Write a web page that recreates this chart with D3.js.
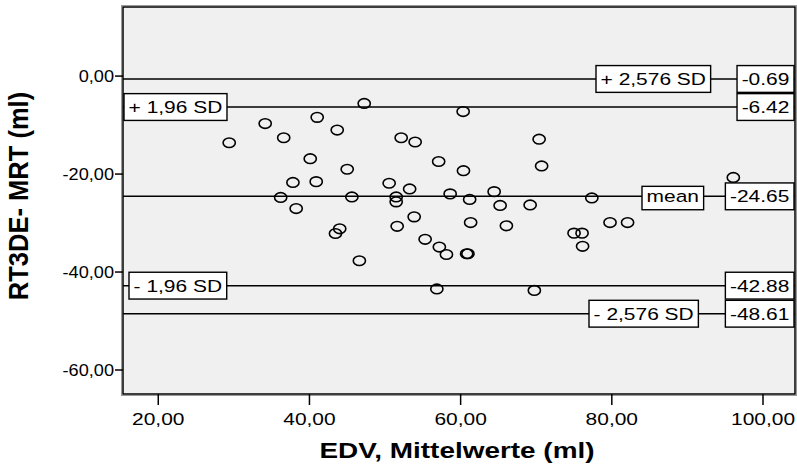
<!DOCTYPE html>
<html><head><meta charset="utf-8">
<script src="https://cdn.jsdelivr.net/npm/d3@7"></script>
<style>
body{margin:0;background:#fff}
svg{display:block}
text{font-family:"Liberation Sans",Arial,Helvetica,sans-serif;fill:#000}
</style>
</head><body>
<svg id="chart" width="797" height="466"></svg>
<script>
// ---- data ----
const edvMean = [29.45,34.21,36.66,41.09,43.74,47.31,40.17,45.06,37.88,40.96,
                 50.61,36.26,45.68,51.54,51.54,53.32,58.68,57.16,54.05,52.20,
                 60.40,60.44,70.45,70.78,64.50,61.26,65.29,69.26,53.92,51.67,
                 61.39,66.12,55.37,57.25,58.19,60.86,61.03,56.92,69.82,77.42,
                 75.07,76.13,76.20,79.83,82.15,96.14,38.31,44.07,43.51,46.67];
const diffRtMrt = [-13.71,-9.80,-12.69,-8.53,-11.12,-5.68,-16.97,-19.12,-21.81,-21.65,
                   -21.98,-24.87,-24.77,-24.77,-25.78,-23.14,-24.15,-17.54,-13.56,-12.69,
                   -7.35,-19.41,-12.99,-18.45,-23.69,-25.28,-26.50,-26.40,-28.84,-30.77,
                   -30.00,-30.67,-33.42,-35.01,-36.52,-36.37,-36.37,-43.56,-43.85,-24.97,
                   -32.16,-32.16,-34.85,-30.00,-30.00,-20.79,-27.15,-31.28,-32.24,-37.80];
const refValues = [-0.69, -6.42, -24.65, -42.88, -48.61];
const refNames = ["+ 2,576 SD", "+ 1,96 SD", "mean", "- 1,96 SD", "- 2,576 SD"];
const refValueLabels = ["-0.69", "-6.42", "-24.65", "-42.88", "-48.61"];
const xTicks = [20, 40, 60, 80, 100];
const yTicks = [0, -20, -40, -60];
const xTitle = "EDV, Mittelwerte (ml)";
const yTitle = "RT3DE- MRT (ml)";

// ---- layout ----
const plot = {left:123, right:795, top:7, bottom:394};
const nameBoxLeft = [596, 124, 642, 129, 589];   // left edge of each name box (px)
const SX = 1.27;       // horizontal stretch of the original picture
const FS = 16.5;

const svg = d3.select("#chart");
const x = d3.scaleLinear().domain([15.4, 104.3]).range([plot.left, plot.right]);
const y = d3.scaleLinear().domain([-65, 14]).range([plot.bottom, plot.top]);
const fmt = d3.formatLocale({decimal:",", thousands:".", grouping:[3], currency:["",""], minus:"-"}).format(".2f");

// background & frame
svg.append("rect").attr("x", plot.left-1.5).attr("y", plot.top-1.5)
  .attr("width", plot.right-plot.left+3).attr("height", plot.bottom-plot.top+3)
  .attr("fill","none").attr("stroke","#999").attr("stroke-width",1);
svg.append("rect").attr("x", plot.left).attr("y", plot.top)
  .attr("width", plot.right-plot.left).attr("height", plot.bottom-plot.top)
  .attr("fill","#f0f0f0").attr("stroke","#000").attr("stroke-width",1.5);

// axes
const yAxis = d3.axisLeft(y).tickValues(yTicks).tickSize(8).tickPadding(0).tickFormat(fmt);
const gy = svg.append("g").attr("transform", `translate(${plot.left},0)`).call(yAxis);
gy.select(".domain").remove();
gy.selectAll(".tick line").attr("stroke","#000").attr("stroke-width",1.5);
gy.selectAll(".tick text").attr("x", null).attr("dy", null)
  .attr("text-anchor","end").attr("font-size", FS)
  .attr("transform", `translate(-9,6) scale(1.1,1)`);

const xAxis = d3.axisBottom(x).tickValues(xTicks).tickSize(11).tickPadding(0).tickFormat(fmt);
const gx = svg.append("g").attr("transform", `translate(0,${plot.bottom})`).call(xAxis);
gx.select(".domain").remove();
gx.selectAll(".tick line").attr("stroke","#000").attr("stroke-width",1.5);
gx.selectAll(".tick text").attr("y", null).attr("dy", null)
  .attr("text-anchor","middle").attr("font-size", FS)
  .attr("transform", `translate(0,31) scale(${SX},1)`);

// titles
svg.append("text").attr("text-anchor","middle").attr("font-weight","bold").attr("font-size",22)
  .attr("transform", `translate(457,458) scale(${SX},1)`).text(xTitle);
svg.append("text").attr("text-anchor","middle").attr("font-weight","bold").attr("font-size",22)
  .attr("transform", `translate(28,196) rotate(-90) scale(1.16,${SX})`).text(yTitle);

// reference lines
svg.append("g").selectAll("line").data(refValues).join("line")
  .attr("x1", plot.left).attr("x2", plot.right)
  .attr("y1", d => y(d)).attr("y2", d => y(d))
  .attr("stroke","#000").attr("stroke-width",1.5);

// points
svg.append("g").selectAll("ellipse").data(edvMean.map((v,i)=>[v, diffRtMrt[i]])).join("ellipse")
  .attr("cx", d => x(d[0])).attr("cy", d => y(d[1]))
  .attr("rx", 6.1).attr("ry", 4.8)
  .attr("fill","none").attr("stroke","#000").attr("stroke-width",1.6);

// labelled boxes
function boxLabel(txt, cy, left, right, isMean){
  const g = svg.append("g");
  const rect = g.append("rect");
  const t = g.append("text").attr("font-size", FS).text(txt);
  const w = t.node().getComputedTextLength()*SX;
  const pad = 4.6;
  const bw = w + 2*pad;
  const bx = right != null ? right - bw : left;
  const top = cy - 13.4 + (isMean ? 3.4 : 0);
  rect.attr("x", bx).attr("y", top).attr("width", bw).attr("height", cy + 13.4 - top)
    .attr("fill","#fff").attr("stroke","#000").attr("stroke-width",1.4);
  t.attr("transform", `translate(${bx+pad},${cy+6}) scale(${SX},1)`);
}
refValues.forEach((v,i) => {
  boxLabel(refNames[i], y(v), nameBoxLeft[i], null, refNames[i]==="mean");
  boxLabel(refValueLabels[i], y(v), null, 794, false);
});
</script>
</body></html>
